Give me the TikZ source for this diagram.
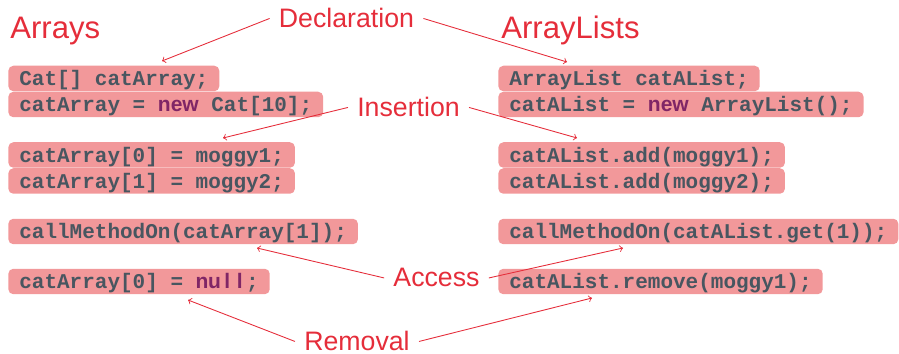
\documentclass[tikz,border=0pt]{standalone}
\usepackage{fontspec}
\setsansfont{Liberation Sans}
\newfontfamily\codefont{Liberation Mono}

\definecolor{labelred}{RGB}{229,45,58}
\definecolor{boxfill}{RGB}{242,152,154}
\definecolor{codegray}{RGB}{72,86,96}
\definecolor{kwpurple}{RGB}{128,38,102}

% keyword in the code lines, one column per letter for null
\newcommand{\kw}[1]{{\sffamily\color{kwpurple}#1}}
\newcommand{\kwcol}[1]{\makebox[0.6em]{#1}}

\tikzset{
  codebox/.style={fill=boxfill, rounded corners=0.1cm, anchor=west,
    inner xsep=0.22cm, inner ysep=0pt, text height=0.4cm, text depth=0.11cm,
    text=codegray, font=\codefont\bfseries\fontsize{11.95}{14}\selectfont},
  title/.style={anchor=base west, inner sep=0pt, text=labelred,
    font=\sffamily\fontsize{17.7}{21}\selectfont},
  lbl/.style={anchor=base, inner sep=0.18cm, text=labelred,
    font=\sffamily\fontsize{15.2}{18}\selectfont},
  pointer/.style={->, draw=labelred, line width=0.5pt}
}

\begin{document}
\begin{tikzpicture}[x=0.02cm, y=-0.02cm]
    \useasboundingbox (0,0) rectangle (899,354);

    % Column titles
    \node[title] (arrays) at (10,39) {Arrays};
    \node[title] (lists) at (501,39) {ArrayLists};

    % Arrays column
    \node[codebox] (adecl) at (8,78.5) {Cat[] catArray;};
    \node[codebox] (anew) at (8,104.5) {catArray = \kw{new} Cat[10];};
    \node[codebox] (aput1) at (8,155) {catArray[0] = moggy1;};
    \node[codebox] (aput2) at (8,181) {catArray[1] = moggy2;};
    \node[codebox] (aget) at (8,231.5) {callMethodOn(catArray[1]);};
    \node[codebox] (adel) at (8,281.5) {catArray[0] = \kw{\kwcol{n}\kwcol{u}\kwcol{l}\kwcol{l}};};

    % ArrayLists column
    \node[codebox] (ldecl) at (498,78.5) {ArrayList catAList;};
    \node[codebox] (lnew) at (498,104.5) {catAList = \kw{new} ArrayList();};
    \node[codebox] (lput1) at (498,155) {catAList.add(moggy1);};
    \node[codebox] (lput2) at (498,181) {catAList.add(moggy2);};
    \node[codebox] (lget) at (498,231.5) {callMethodOn(catAList.get(1));};
    \node[codebox] (ldel) at (498,281.5) {catAList.remove(moggy1);};

    % Operation labels
    \node[lbl] (decl) at (346.5,28) {Declaration};
    \node[lbl] (ins) at (408.5,117) {Insertion};
    \node[lbl] (acc) at (436.5,287) {Access};
    \node[lbl] (rem) at (357,351) {Removal};

    % Arrow tips just off the boxes
    \coordinate (declA) at (162,61);
    \coordinate (declL) at (567,62);
    \coordinate (insA) at (223,138);
    \coordinate (insL) at (577,138);
    \coordinate (accA) at (257,248);
    \coordinate (accL) at (623,248);
    \coordinate (remA) at (188,300);
    \coordinate (remL) at (592,298);

    \draw[pointer] (decl.west) -- (declA);
    \draw[pointer] (decl.east) -- (declL);
    \draw[pointer] (ins.west) -- (insA);
    \draw[pointer] (ins.east) -- (insL);
    \draw[pointer] (acc.west) -- (accA);
    \draw[pointer] (acc.east) -- (accL);
    \draw[pointer] (rem.west) -- (remA);
    \draw[pointer] (rem.east) -- (remL);
\end{tikzpicture}
\end{document}
